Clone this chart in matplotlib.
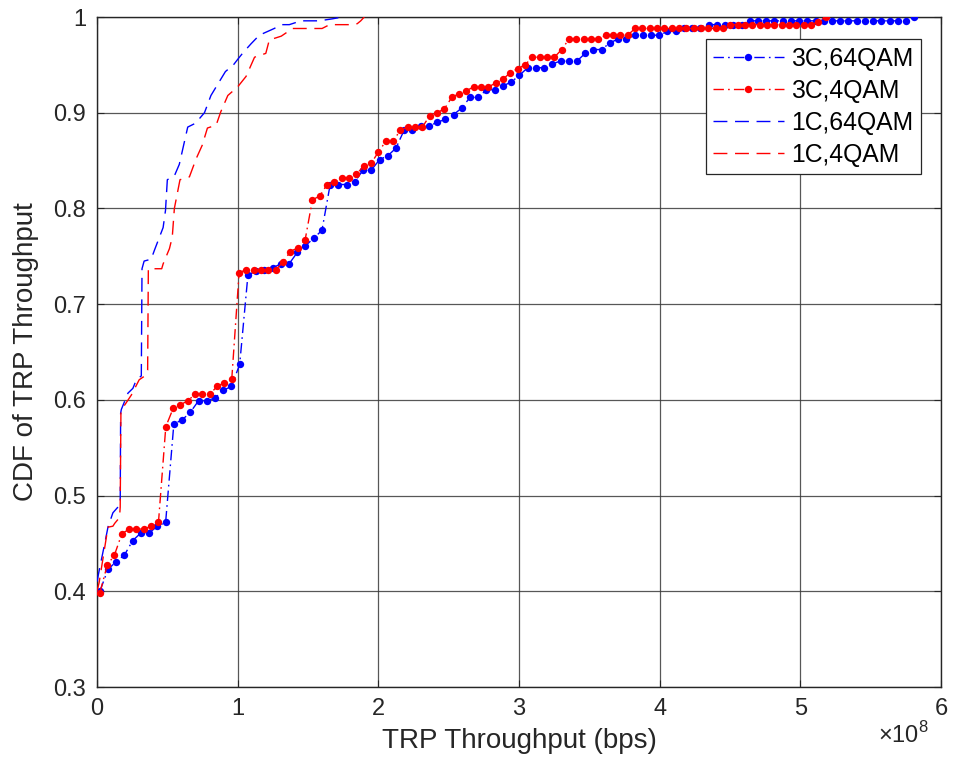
import numpy as np
import matplotlib
matplotlib.use("Agg")
import matplotlib.pyplot as plt

plt.rcParams['font.family'] = ['Liberation Sans', 'DejaVu Sans']
plt.rcParams['mathtext.fontset'] = 'custom'
plt.rcParams['mathtext.rm'] = 'Liberation Sans'
plt.rcParams['lines.scale_dashes'] = False

# ---------------- data (x in units of 1e8 bps) ----------------
labels = ['3C,64QAM', '3C,4QAM', '1C,64QAM', '1C,4QAM']

# 3C curves: CDF sampled at 100 evenly spaced throughput values
x_3c64_start, x_3c64_end = 0.02, 5.81
y_3c64 = [0.400, 0.423, 0.431, 0.438, 0.453, 0.461, 0.461, 0.468, 0.472, 0.575,
          0.579, 0.587, 0.599, 0.599, 0.602, 0.610, 0.614, 0.637, 0.730, 0.735,
          0.736, 0.738, 0.742, 0.742, 0.754, 0.761, 0.769, 0.777, 0.825, 0.825,
          0.825, 0.828, 0.840, 0.840, 0.851, 0.855, 0.863, 0.882, 0.882, 0.886,
          0.886, 0.890, 0.893, 0.898, 0.905, 0.916, 0.916, 0.924, 0.924, 0.928,
          0.932, 0.939, 0.947, 0.947, 0.947, 0.951, 0.954, 0.954, 0.954, 0.962,
          0.966, 0.966, 0.973, 0.977, 0.977, 0.981, 0.981, 0.981, 0.981, 0.985,
          0.985, 0.989, 0.989, 0.989, 0.992, 0.992, 0.992, 0.992, 0.992, 0.996,
          0.996, 0.996, 0.996, 0.996, 0.996, 0.996, 0.996, 0.996, 0.996, 0.996,
          0.996, 0.996, 0.996, 0.996, 0.996, 0.996, 0.996, 0.996, 0.996, 1.000]

x_3c4_start, x_3c4_end = 0.02, 5.18
y_3c4 = [0.398, 0.427, 0.438, 0.460, 0.465, 0.465, 0.465, 0.468, 0.472, 0.572,
         0.591, 0.595, 0.599, 0.606, 0.606, 0.606, 0.614, 0.618, 0.622, 0.733,
         0.736, 0.736, 0.736, 0.736, 0.736, 0.744, 0.755, 0.759, 0.767, 0.809,
         0.813, 0.825, 0.828, 0.832, 0.832, 0.836, 0.844, 0.847, 0.859, 0.870,
         0.870, 0.882, 0.885, 0.885, 0.885, 0.897, 0.900, 0.904, 0.916, 0.920,
         0.923, 0.927, 0.927, 0.927, 0.931, 0.935, 0.942, 0.946, 0.950, 0.958,
         0.958, 0.958, 0.958, 0.966, 0.977, 0.977, 0.977, 0.977, 0.977, 0.981,
         0.981, 0.981, 0.981, 0.988, 0.988, 0.988, 0.988, 0.988, 0.988, 0.988,
         0.988, 0.988, 0.988, 0.988, 0.988, 0.988, 0.992, 0.992, 0.992, 0.992,
         0.992, 0.992, 0.992, 0.992, 0.992, 0.992, 0.992, 0.992, 0.995, 1.000]

# 1C curves: traced empirical CDF paths
x_1c64 = [0.00, 0.02, 0.055, 0.078, 0.113, 0.149, 0.165, 0.168, 0.173, 0.22,
          0.255, 0.28, 0.315, 0.32, 0.335, 0.385, 0.41, 0.47, 0.487, 0.50,
          0.55, 0.585, 0.645, 0.70, 0.764, 0.81, 0.847, 0.913, 0.97, 1.007,
          1.04, 1.095, 1.154, 1.26, 1.31, 1.367, 1.45, 1.58, 1.67, 1.745]
y_1c64 = [0.410, 0.425, 0.450, 0.467, 0.482, 0.488, 0.490, 0.586, 0.590, 0.607,
          0.612, 0.621, 0.625, 0.737, 0.745, 0.747, 0.757, 0.780, 0.798, 0.830,
          0.834, 0.846, 0.885, 0.889, 0.900, 0.918, 0.927, 0.943, 0.950, 0.957,
          0.963, 0.972, 0.981, 0.988, 0.992, 0.992, 0.996, 0.996, 0.998, 1.000]

x_1c4 = [0.00, 0.015, 0.078, 0.113, 0.126, 0.16, 0.165, 0.17, 0.185, 0.244,
         0.30, 0.34, 0.36, 0.365, 0.40, 0.46, 0.47, 0.515, 0.535, 0.55,
         0.59, 0.657, 0.705, 0.748, 0.785, 0.847, 0.88, 0.93, 1.00, 1.06,
         1.12, 1.20, 1.225, 1.31, 1.39, 1.52, 1.60, 1.64, 1.65, 1.73,
         1.816, 1.85, 1.875, 1.90]
y_1c4 = [0.400, 0.409, 0.467, 0.468, 0.471, 0.477, 0.488, 0.586, 0.592, 0.605,
         0.621, 0.625, 0.631, 0.737, 0.737, 0.737, 0.742, 0.758, 0.770, 0.800,
         0.830, 0.833, 0.852, 0.866, 0.884, 0.887, 0.901, 0.918, 0.927, 0.938,
         0.958, 0.962, 0.976, 0.980, 0.988, 0.988, 0.988, 0.991, 0.992, 0.992,
         0.992, 0.993, 0.996, 1.000]

x_ticks = [0, 1, 2, 3, 4, 5, 6]
y_ticks = [0.3, 0.4, 0.5, 0.6, 0.7, 0.8, 0.9, 1.0]
y_tick_labels = ['0.3', '0.4', '0.5', '0.6', '0.7', '0.8', '0.9', '1']

# ---------------- figure ----------------
W, H = 958, 773
fig = plt.figure(figsize=(W / 100, H / 100), dpi=100)
ax = fig.add_axes([97 / W, 1 - 687 / H, (941 - 97) / W, (687 - 17) / H])

x_3c64 = np.linspace(x_3c64_start, x_3c64_end, len(y_3c64))
x_3c4 = np.linspace(x_3c4_start, x_3c4_end, len(y_3c4))

dashdot = (7.5, 3, 1.2, 3)
dashed = (10, 5.5)
lw = 1.0

ax.plot(x_3c64, y_3c64, color=(0, 0, 1), lw=lw, dashes=dashdot, marker='o',
        ms=5.3, mew=0, label=labels[0], zorder=3)
ax.plot(x_3c4, y_3c4, color=(1, 0, 0), lw=lw, dashes=dashdot, marker='o',
        ms=5.3, mew=0, label=labels[1], zorder=3)
ax.plot(x_1c64, y_1c64, color=(0, 0, 1), lw=lw, dashes=dashed,
        label=labels[2], zorder=3)
ax.plot(x_1c4, y_1c4, color=(1, 0, 0), lw=lw, dashes=dashed,
        label=labels[3], zorder=3)

ax.set_xlim(0, 6)
ax.set_ylim(0.3, 1.0)
ax.set_xticks(x_ticks)
ax.set_xticklabels([str(t) for t in x_ticks])
ax.set_yticks(y_ticks)
ax.set_yticklabels(y_tick_labels)

ax.grid(True, color='#3a3a3a', lw=0.9, alpha=0.85)
ax.set_axisbelow(True)
for s in ax.spines.values():
    s.set_color('#262626')
    s.set_linewidth(1.0)
ax.tick_params(direction='in', length=5, width=0.8, colors='#262626',
               labelsize=17, pad=8, top=True, right=True)

ax.set_xlabel('TRP Throughput (bps)', fontsize=20, color='#262626', labelpad=6)
ax.set_ylabel('CDF of TRP Throughput', fontsize=20, color='#262626', labelpad=10)

ax.text(0.985, -0.072, '\u00d710$^{8}$', transform=ax.transAxes, ha='right',
        va='center', fontsize=17, color='#262626')

leg = ax.legend(loc='upper right', bbox_to_anchor=(0.976, 0.967),
                borderaxespad=0, fontsize=17.8, handlelength=2.85,
                handletextpad=0.3, labelspacing=0.33, borderpad=0.3,
                fancybox=False, framealpha=1, edgecolor='#262626')
leg.get_frame().set_linewidth(0.9)

fig.savefig('out.png', dpi=100)
